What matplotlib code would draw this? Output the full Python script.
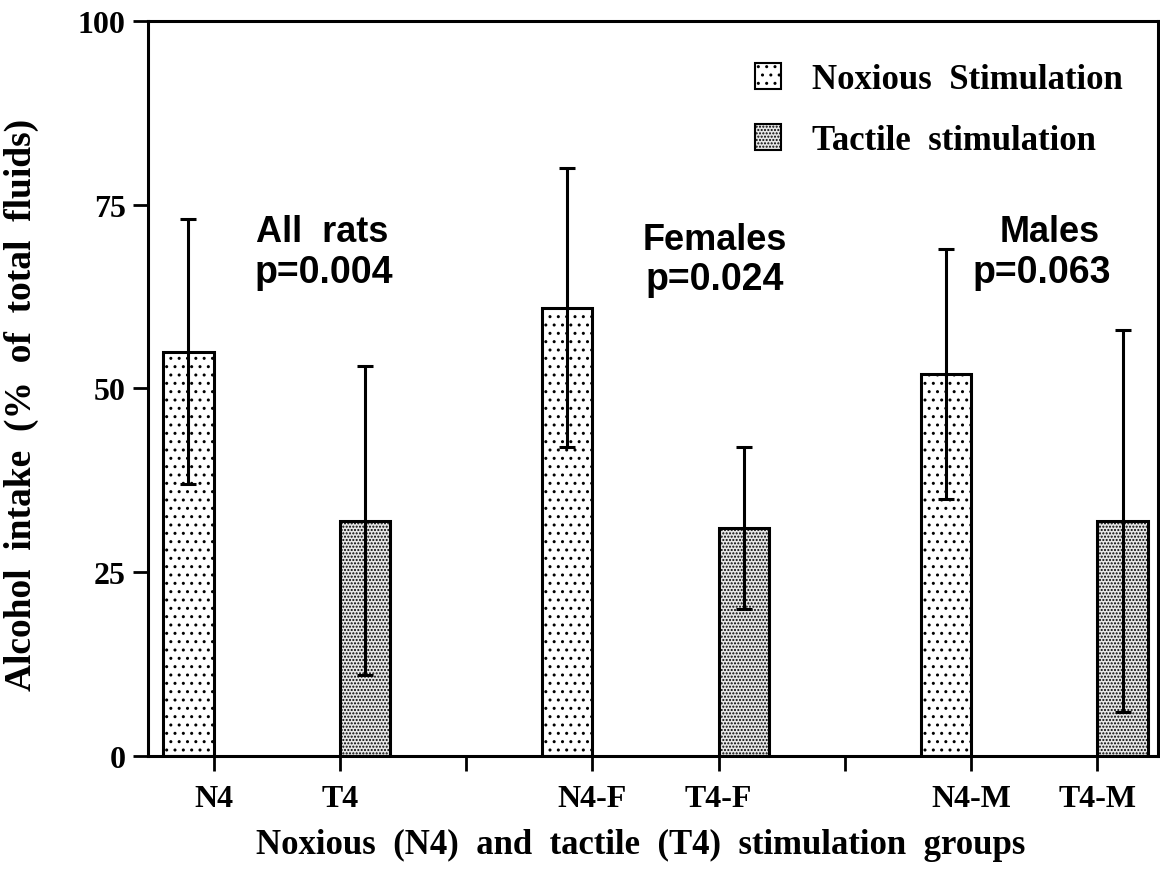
import numpy as np
import matplotlib.pyplot as plt
from matplotlib.patches import Patch

plt.rcParams['hatch.linewidth'] = 1.0

labels = ['N4', 'T4', '', 'N4-F', 'T4-F', '', 'N4-M', 'T4-M']
noxious_mean = [55, 61, 52]
noxious_sd = [18, 19, 17]
tactile_mean = [32, 31, 32]
tactile_sd = [21, 11, 26]
group_names = ['All  rats', 'Females', 'Males']
p_values = ['p=0.004', 'p=0.024', 'p=0.063']

serif = 'Liberation Serif'
sans = 'Liberation Sans'
t_face = '#e6e6e6'

fig = plt.figure(figsize=(11.6, 8.78), dpi=100)
ax = fig.add_axes([0.1276, 0.1378, 0.8707, 0.8372])

ticks = np.arange(1, 9)
n_pos = np.array([1, 4, 7])
t_pos = np.array([2, 5, 8])
w = 0.4

ax.bar(n_pos, noxious_mean, width=-w, align='edge', facecolor='white',
       edgecolor='black', linewidth=2.2, hatch='..', zorder=2)
ax.bar(t_pos, tactile_mean, width=w, align='edge', facecolor=t_face,
       edgecolor='black', linewidth=2.2, hatch='.....', zorder=2)
ax.errorbar(n_pos - w / 2, noxious_mean, yerr=noxious_sd, fmt='none',
            ecolor='black', elinewidth=2.2, capsize=6, capthick=2.2, zorder=3)
ax.errorbar(t_pos + w / 2, tactile_mean, yerr=tactile_sd, fmt='none',
            ecolor='black', elinewidth=2.2, capsize=6, capthick=2.2, zorder=3)

ax.set_xlim(0.48, 8.48)
ax.set_ylim(0, 100)
ax.set_xticks(ticks)
ax.set_xticklabels(labels, fontfamily=serif, fontweight='bold', fontsize=23)
ax.set_yticks([0, 25, 50, 75, 100])
ax.set_yticklabels(['0', '25', '50', '75', '100'], fontfamily=serif,
                   fontweight='bold', fontsize=23)
ax.tick_params(axis='both', direction='out', length=11, width=2, pad=5)
ax.tick_params(axis='x', pad=9)
for s in ax.spines.values():
    s.set_linewidth(2.2)

ax.set_xlabel('Noxious  (N4)  and  tactile  (T4)  stimulation  groups',
              fontfamily=serif, fontweight='bold', fontsize=25)
ax.xaxis.set_label_coords(0.488, -0.12)
ax.xaxis.label.set_va('center')
ax.set_ylabel('Alcohol  intake  (%  of  total  fluids)',
              fontfamily=serif, fontweight='bold', fontsize=27)
ax.yaxis.set_label_coords(-0.125, 0.479)
ax.yaxis.label.set_va('center')

for gx, px, name, p in zip([1.86, 4.97, 7.62], [1.87, 4.97, 7.56],
                           group_names, p_values):
    yoff = 1.0 if name == 'Females' else 0.0
    ax.text(gx, 71.3 - yoff, name, ha='center', va='center', fontfamily=sans,
            fontweight='bold', fontsize=26)
    ax.text(px, 65.9 - yoff, p, ha='center', va='center',
            fontfamily=sans, fontweight='bold', fontsize=27)

handles = [Patch(facecolor='white', edgecolor='black', hatch='..', linewidth=1.5),
           Patch(facecolor=t_face, edgecolor='black', hatch='.....', linewidth=1.5)]
leg = ax.legend(handles, ['Noxious  Stimulation', 'Tactile  stimulation'],
                loc='upper left', bbox_to_anchor=(0.57, 0.985), frameon=False,
                prop={'family': serif, 'weight': 'bold', 'size': 25},
                handlelength=0.75, handleheight=0.75, labelspacing=0.8,
                handletextpad=0.9)

fig.savefig('out.png', dpi=100)
